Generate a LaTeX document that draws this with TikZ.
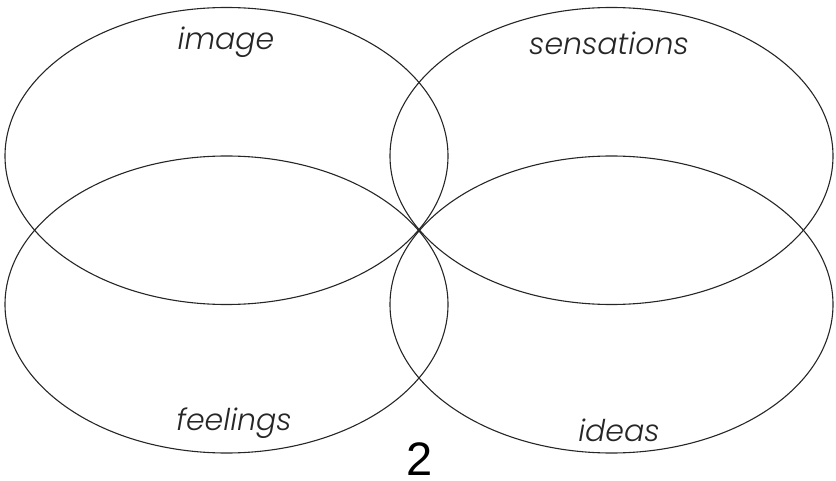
\documentclass[tikz,border=0pt]{standalone}
\usepackage{fontspec}
\newfontfamily\lblfont{Poppins Light Italic}
\newfontfamily\numfont{Liberation Sans}
\begin{document}
\begin{tikzpicture}[x=1pt,y=-1pt,
  petal/.style={draw=black!85,line width=1.1pt},
  lbl/.style={font=\lblfont\fontsize{30}{36}\selectfont,text=black!85,anchor=base,inner sep=0pt},
  num/.style={font=\numfont\fontsize{47}{56}\selectfont,anchor=base,inner sep=0pt}]
\useasboundingbox (0,0) rectangle (836,481);
\coordinate (ctl) at (226.5,156);
\coordinate (ctr) at (611.5,156);
\coordinate (cbl) at (226.5,304.5);
\coordinate (cbr) at (611.5,304.5);
\draw[petal] (ctl) ellipse [x radius=221.5, y radius=148.5];
\draw[petal] (ctr) ellipse [x radius=221.5, y radius=148.5];
\draw[petal] (cbl) ellipse [x radius=221.5, y radius=148.5];
\draw[petal] (cbr) ellipse [x radius=221.5, y radius=148.5];
\node[lbl] (image) at (226,50) {image};
\node[lbl] (sens) at (609,55) {sensations};
\node[lbl] (feel) at (234,430) {feelings};
\node[lbl] (ideas) at (619,441) {ideas};
\node[num] (two) at (420,475) {2};
\end{tikzpicture}
\end{document}
